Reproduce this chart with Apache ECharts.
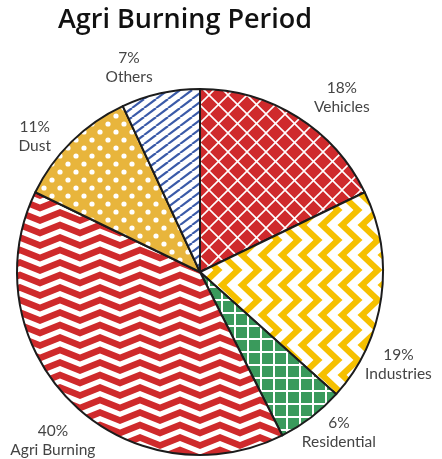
<!DOCTYPE html>
<html>
<head>
<meta charset="utf-8">
<script src="https://cdn.jsdelivr.net/npm/echarts@6/dist/echarts.min.js"></script>
<style>
html,body{margin:0;padding:0;background:#fff;}
#chart{width:442px;height:459px;}
</style>
</head>
<body>
<div id="chart"></div>
<script>
// ---- data ----
const categories = ['Vehicles', 'Industries', 'Residential', 'Agri Burning', 'Dust', 'Others'];
const shares = [18, 19, 6, 40, 11, 7];
const percentLabels = ['18%', '19%', '6%', '40%', '11%', '7%'];
const titleText = 'Agri Burning Period';

// ---- styling (label placement tweaks, not data) ----
const labelAngleShift = [7, 17, -3.5, -3.5, -6, -6.7];
const labelDist = [225, 219, 212, 224, 214, 216];
const CX = 200, CY = 272, R = 183;

function tile(w, h, draw) {
  const c = document.createElement('canvas');
  c.width = w; c.height = h;
  const g = c.getContext('2d');
  draw(g, w, h);
  return { image: c, repeat: 'repeat' };
}

const RED = '#cf2a2c';
const patterns = [
  // Vehicles: red with white cross-hatch
  tile(19, 19, (g, w, h) => {
    g.fillStyle = RED; g.fillRect(0, 0, w, h);
    g.strokeStyle = '#fff'; g.lineWidth = 1.6;
    for (const o of [-w, 0, w]) {
      g.beginPath(); g.moveTo(o, 0); g.lineTo(o + w, h); g.stroke();
      g.beginPath(); g.moveTo(o + w, 0); g.lineTo(o, h); g.stroke();
    }
  }),
  // Industries: yellow vertical zigzag on white
  tile(20, 30, (g, w, h) => {
    g.fillStyle = '#fff'; g.fillRect(0, 0, w, h);
    g.strokeStyle = '#f5c000'; g.lineWidth = 6.2; g.lineJoin = 'miter';
    for (const o of [-w, 0, w]) {
      g.beginPath(); g.moveTo(o + 2, -h / 2); g.lineTo(o + 18, 0); g.lineTo(o + 2, h / 2); g.lineTo(o + 18, h); g.lineTo(o + 2, h * 1.5); g.stroke();
    }
  }),
  // Residential: green with white grid
  tile(13, 13, (g, w, h) => {
    g.fillStyle = '#3a9a5c'; g.fillRect(0, 0, w, h);
    g.fillStyle = '#fff'; g.fillRect(0, 0, w, 2); g.fillRect(0, 0, 2, h);
  }),
  // Agri Burning: red horizontal chevrons on white
  tile(40, 25, (g, w, h) => {
    g.fillStyle = '#fff'; g.fillRect(0, 0, w, h);
    g.strokeStyle = RED; g.lineWidth = 6.5; g.lineJoin = 'miter';
    for (const o of [-12.5, 0, 12.5, 25]) {
      g.beginPath(); g.moveTo(-w / 2, o); g.lineTo(0, o + 8); g.lineTo(w / 2, o); g.lineTo(w, o + 8); g.lineTo(w * 1.5, o); g.stroke();
    }
  }),
  // Dust: mustard with white dots
  tile(16, 16, (g, w, h) => {
    g.fillStyle = '#e8b53c'; g.fillRect(0, 0, w, h);
    g.fillStyle = '#fff';
    for (const [x, y] of [[4, 4], [12, 12]]) { g.beginPath(); g.arc(x, y, 2.6, 0, Math.PI * 2); g.fill(); }
  }),
  // Others: white with blue diagonal stripes
  tile(12, 9, (g, w, h) => {
    g.fillStyle = '#fff'; g.fillRect(0, 0, w, h);
    g.strokeStyle = '#3a5aa8'; g.lineWidth = 2.2;
    for (const o of [-w, 0, w]) { g.beginPath(); g.moveTo(o, h); g.lineTo(o + w, 0); g.stroke(); }
  })
];

const total = shares.reduce((a, b) => a + b, 0);
const midAngles = [];
{ let acc = 0; shares.forEach(v => { midAngles.push((acc + v / 2) / total * 360); acc += v; }); }

const chart = echarts.init(document.getElementById('chart'), null, { renderer: 'canvas' });
chart.setOption({
  animation: false,
  title: {
    text: titleText, left: 180, top: 2, textAlign: 'center',
    textStyle: { fontFamily: 'Open Sans', fontWeight: 600, fontSize: 27, color: '#111' }
  },
  series: [{
    type: 'pie',
    center: [CX, CY],
    radius: R,
    startAngle: 90,
    clockwise: true,
    silent: true,
    itemStyle: { borderColor: '#1c1c1c', borderWidth: 2 },
    label: {
      show: true, position: 'outside', overflow: 'none',
      formatter: p => '{a|' + percentLabels[p.dataIndex] + '}\n{a|' + p.name + '}',
      rich: { a: { fontFamily: 'Lato', fontSize: 15.5, color: '#444', lineHeight: 19, align: 'center' } }
    },
    labelLine: { show: false },
    labelLayout: p => {
      const i = p.dataIndex;
      const a = (midAngles[i] + labelAngleShift[i]) * Math.PI / 180;
      return { x: CX + labelDist[i] * Math.sin(a), y: CY - labelDist[i] * Math.cos(a), align: 'center', verticalAlign: 'middle' };
    },
    data: categories.map((c, i) => ({ name: c, value: shares[i], itemStyle: { color: patterns[i] } }))
  }]
});
</script>
</body>
</html>
